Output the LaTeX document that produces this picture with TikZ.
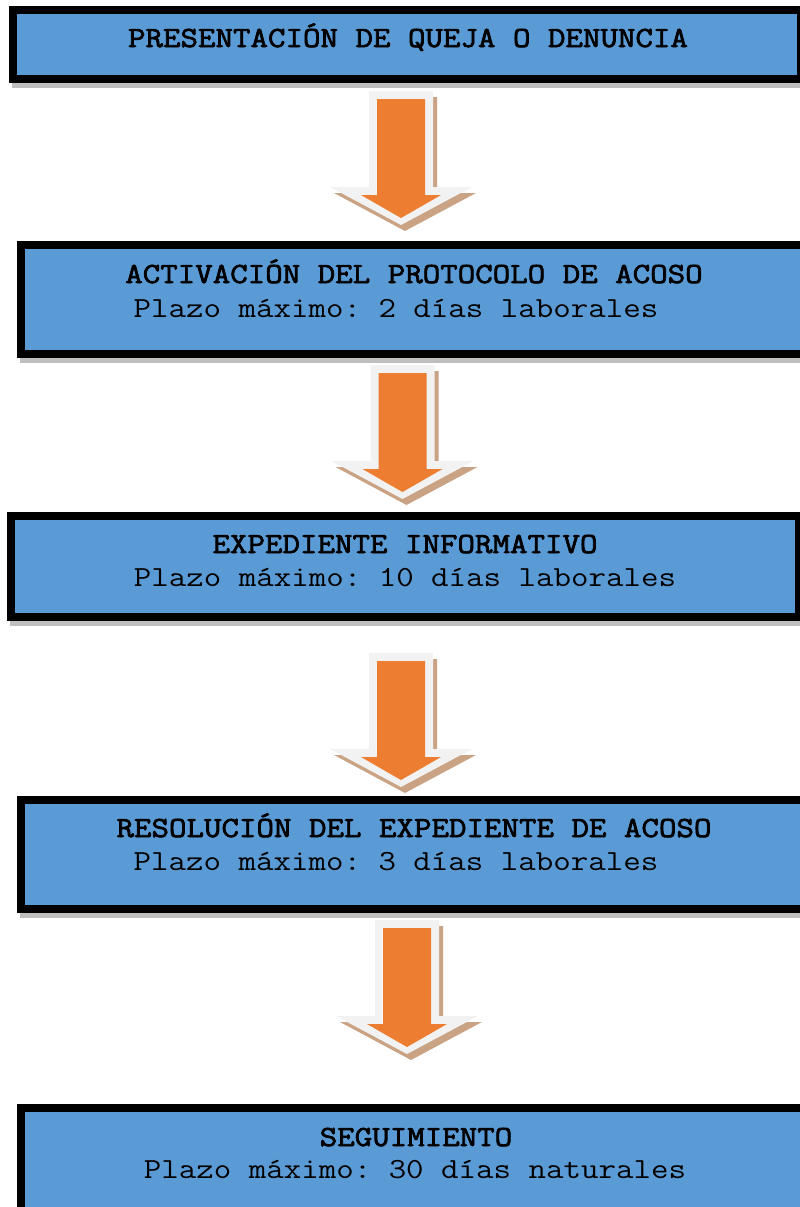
\documentclass[tikz,border=0pt]{standalone}
\usepackage{fontspec}
\setmonofont{Latin Modern Mono}[FakeStretch=1.165, BoldFont={Latin Modern Mono}, BoldFeatures={FakeBold=2.5}]
\usetikzlibrary{shadows}

\definecolor{cajaazul}{HTML}{5B9BD5}
\definecolor{naranja}{HTML}{ED7D31}
\definecolor{bordeclaro}{HTML}{F2F2F2}
\definecolor{sombraflecha}{HTML}{C9A384}
\definecolor{sombracaja}{HTML}{BFBFBF}

% block arrow, #1 = top centre of the arrow
\newcommand{\flecha}[1]{%
  \begin{scope}[shift={(#1)}]
    \fill[sombraflecha] (-28,6) -- (36,6) -- (36,102) -- (75,102) -- (4,140) -- (-67,102) -- (-28,102) -- cycle;
    \fill[bordeclaro] (-32,0) -- (32,0) -- (32,96) -- (71,96) -- (0,134) -- (-71,96) -- (-32,96) -- cycle;
    \fill[naranja] (-24,8) -- (24,8) -- (24,104) -- (40,104) -- (0,127) -- (-40,104) -- (-24,104) -- cycle;
  \end{scope}}

\begin{document}
\begin{tikzpicture}[x=0.02cm, y=-0.02cm,
  caja/.style={draw=black, fill=cajaazul, line width=0.16cm, rectangle, inner sep=0pt,
    general shadow={fill=sombracaja, draw=sombracaja, line width=0.16cm, shadow xshift=0.06cm, shadow yshift=-0.1cm}},
  titulo/.style={font=\ttfamily\bfseries\fontsize{16.6}{20}\selectfont, anchor=base, inner sep=0pt},
  plazo/.style={font=\ttfamily\fontsize{16.6}{20}\selectfont, anchor=base, inner sep=0pt}]
\useasboundingbox (0,0) rectangle (800,1207);
\clip (0,0) rectangle (800,1207);

% Boxes
\node[caja, minimum width=15.76cm, minimum height=1.38cm] (presentacion) at (407,44.5) {};
\node[caja, minimum width=15.9cm, minimum height=2.18cm] (activacion) at (418.5,299.5) {};
\node[caja, minimum width=15.76cm, minimum height=2.02cm] (expediente) at (405,566.5) {};
\node[caja, minimum width=15.9cm, minimum height=2.18cm] (resolucion) at (418.5,854.5) {};
\node[caja, minimum width=15.9cm, minimum height=2.36cm] (seguimiento) at (418.5,1167) {};

% Texts
\node[titulo] (t1) at (408,47) {PRESENTACIÓN DE QUEJA O DENUNCIA};
\node[titulo] (t2) at (414,283) {ACTIVACIÓN DEL PROTOCOLO DE ACOSO};
\node[plazo] (p2) at (396,317) {Plazo máximo: 2 días laborales};
\node[titulo] (t3) at (405,553) {EXPEDIENTE INFORMATIVO};
\node[plazo] (p3) at (405,586) {Plazo máximo: 10 días laborales};
\node[titulo] (t4) at (414,837) {RESOLUCIÓN DEL EXPEDIENTE DE ACOSO};
\node[plazo] (p4) at (396,870) {Plazo máximo: 3 días laborales};
\node[titulo] (t5) at (416,1146) {SEGUIMIENTO};
\node[plazo] (p5) at (415,1178) {Plazo máximo: 30 días naturales};

% Arrows
\coordinate (f1) at (401,91);
\coordinate (f2) at (402.5,365);
\coordinate (f3) at (401,653);
\coordinate (f4) at (407,920);
\flecha{f1}
\flecha{f2}
\flecha{f3}
\flecha{f4}
\end{tikzpicture}
\end{document}
